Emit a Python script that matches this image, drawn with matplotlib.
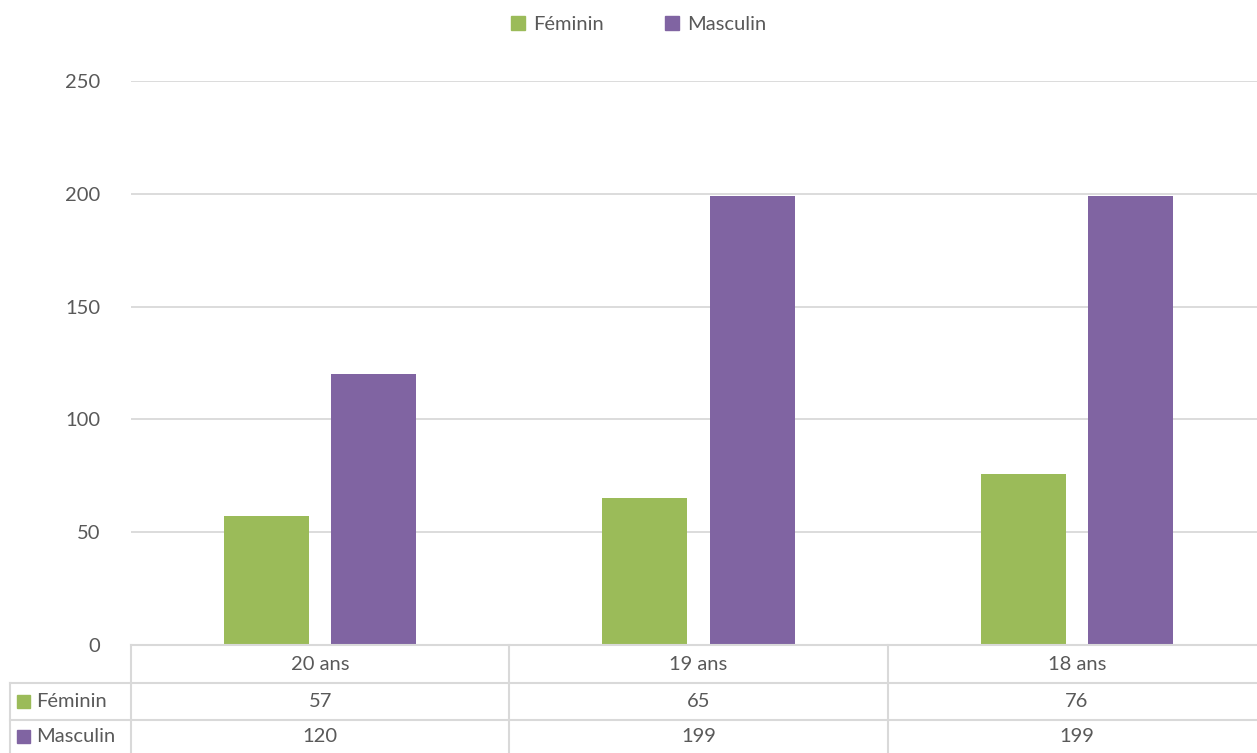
import matplotlib
matplotlib.use("Agg")
import matplotlib.pyplot as plt
from matplotlib.patches import Rectangle

categories = ["20 ans", "19 ans", "18 ans"]
series_names = ["Féminin", "Masculin"]
feminin = [57, 65, 76]
masculin = [120, 199, 199]
yticks = [0, 50, 100, 150, 200, 250]

colors = ["#9BBB59", "#8064A2"]
text_color = "#595959"
grid_color = "#D9D9D9"
plt.rcParams['font.family'] = ['Lato', 'DejaVu Sans']
fs = 14.5

W, H = 1257, 753
fig = plt.figure(figsize=(W / 100, H / 100), dpi=100)

# pixel layout
ax_l, ax_r, ax_t, ax_b = 131, 1266, 81, 645
ax = fig.add_axes([ax_l / W, (H - ax_b) / H, (ax_r - ax_l) / W, (ax_b - ax_t) / H])

n = len(categories)
x = list(range(n))
bw = 0.225
off = 0.142
vals = [feminin, masculin]
for k, (name, v) in enumerate(zip(series_names, vals)):
    xs = [xi + (-off if k == 0 else off) for xi in x]
    ax.bar(xs, v, width=bw, color=colors[k], label=name, zorder=3)

ax.set_xlim(-0.5, n - 0.5)
ax.set_ylim(0, 250)
ax.set_yticks(yticks)
ax.set_yticklabels([str(t) for t in yticks], fontsize=fs, color=text_color)
ax.tick_params(axis='y', length=0, pad=22)
ax.set_xticks([])
ax.grid(axis='y', color=grid_color, linewidth=1.3, zorder=0)
for s in ax.spines.values():
    s.set_visible(False)

# legend
handles = [Rectangle((0, 0), 1, 1, color=c) for c in colors]
fig.legend(handles, series_names, loc='upper center', bbox_to_anchor=(0.508, 1.003),
           ncol=2, frameon=False, fontsize=fs, handlelength=0.7, handleheight=0.7,
           handletextpad=0.4, columnspacing=3.0, labelcolor=text_color)

# data table overlay in pixel coordinates
tab = fig.add_axes([0, 0, 1, 1], zorder=5)
tab.set_xlim(0, W)
tab.set_ylim(H, 0)
tab.axis('off')
lw = 1.5
row_y = [645, 683, 720, 753]
col_w = (ax_r - ax_l) / n
col_x = [ax_l + i * col_w for i in range(n + 1)]
left_x = 10
# horizontal lines
tab.plot([ax_l, ax_r], [row_y[0], row_y[0]], color=grid_color, lw=lw)
for yy in row_y[1:3]:
    tab.plot([left_x, ax_r], [yy, yy], color=grid_color, lw=lw)
# vertical lines
tab.plot([left_x, left_x], [row_y[1], H], color=grid_color, lw=lw)
for cx in col_x:
    tab.plot([cx, cx], [row_y[0], H], color=grid_color, lw=lw)

centers = [ax_l + (i + 0.5) * col_w for i in range(n)]
for i, c in enumerate(categories):
    tab.text(centers[i], (row_y[0] + row_y[1]) / 2, c, ha='center', va='center',
             fontsize=fs, color=text_color)
for r, (name, v) in enumerate(zip(series_names, vals)):
    yc = (row_y[r + 1] + row_y[r + 2]) / 2
    tab.add_patch(Rectangle((17, yc - 6.5), 13, 13, color=colors[r]))
    tab.text(36, yc, name, ha='left', va='center', fontsize=fs, color=text_color)
    for i, val in enumerate(v):
        tab.text(centers[i], yc, str(val), ha='center', va='center',
                 fontsize=fs, color=text_color)

fig.savefig("out.png", dpi=100)
